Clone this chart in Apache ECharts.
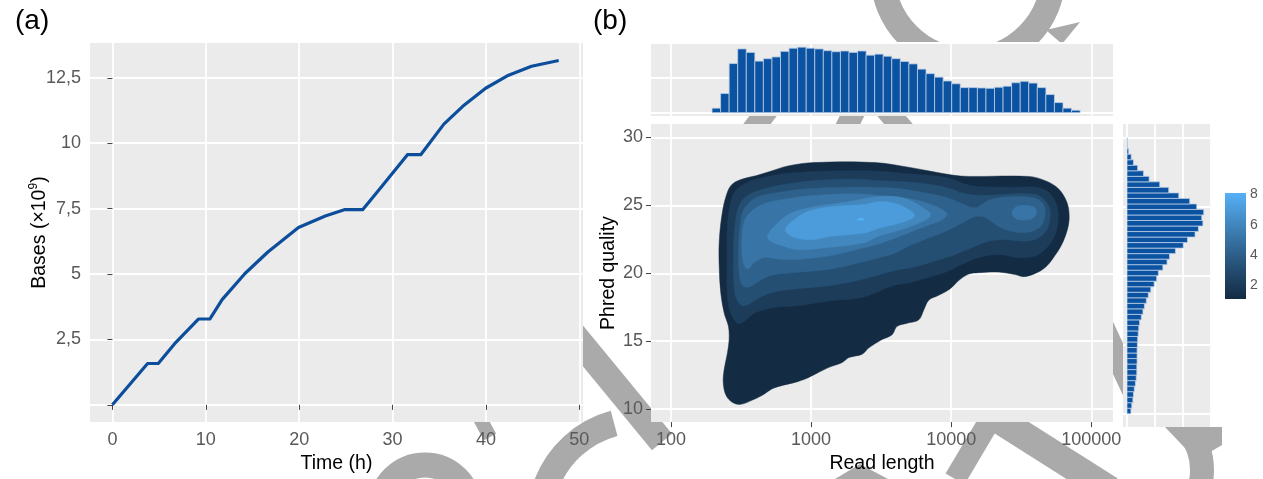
<!DOCTYPE html>
<html>
<head>
<meta charset="utf-8">
<script src="https://cdn.jsdelivr.net/npm/echarts@6/dist/echarts.min.js"></script>
<style>
  html, body { margin: 0; padding: 0; background: #ffffff; }
  #chart { width: 1263px; height: 479px; }
</style>
</head>
<body>
<div id="chart"></div>
<script>
// ---------- (a) cumulative sequencing yield ----------
const runHours = [0, 3.77, 4.91, 6.8, 9.21, 10.43, 11.75, 14.2, 16.65, 19.93, 22.8, 24.83, 26.8, 28.93, 31.6, 33.02, 35.5, 37.52, 39.97, 42.43, 44.89, 47.8];
const basesGiga = [0, 1.58, 1.58, 2.39, 3.28, 3.28, 4.02, 5.02, 5.84, 6.78, 7.22, 7.46, 7.46, 8.38, 9.56, 9.56, 10.73, 11.41, 12.1, 12.6, 12.94, 13.16];
const timeTicks = [0, 10, 20, 30, 40, 50];
const baseTicks = [0, 2.5, 5, 7.5, 10, 12.5];
const baseTickLabels = ['', '2,5', '5', '7,5', '10', '12,5'];

// ---------- (b) read length vs. quality ----------
const lengthTicks = [100, 1000, 10000, 100000];
const qualityTicks = [10, 15, 20, 25, 30];
const densityTicks = [2, 4, 6, 8];

// read-length histogram: log10 bins
const lengthBinStartLog10 = 2.293;
const lengthBinWidthLog10 = 0.0611;
const lengthCounts = [130, 550, 1410, 1830, 1730, 1480, 1550, 1600, 1760, 1850, 1880, 1850, 1830, 1780, 1750, 1770, 1730, 1770, 1650, 1680, 1620, 1550, 1470, 1400, 1250, 1120, 1020, 910, 830, 720, 720, 710, 700, 730, 760, 860, 900, 850, 720, 520, 290, 130, 70];

// quality histogram: bins of 0.4 from Q10 upwards
const qualityBinStart = 10;
const qualityBinWidth = 0.4;
const qualityCounts = [140, 170, 210, 230, 260, 300, 330, 350, 350, 360, 360, 360, 370, 380, 400, 420, 450, 510, 570, 620, 690, 760, 850, 970, 1060, 1120, 1280, 1430, 1520, 1730, 2010, 2160, 2430, 2550, 2710, 2670, 2740, 2490, 2240, 1850, 1490, 1170, 790, 590, 380, 230, 150, 60, 20, 10];

// 2D density: filled contour bands [read length, phred quality]
const densityLevels = [1.1, 2.1, 3.1, 4.1, 5.1, 6.1, 7.1, 8.1];
const contourLevel1 = [[275,26.58],[324,26.94],[403,27.18],[501,27.47],[684,27.90],[1052,28.15],[2853,28.15],[5060,27.79],[10140,27.23],[13340,27.13],[35650,27.13],[46880,26.82],[58340,26.22],[66840,25.25],[69510,24.28],[67930,23.32],[61530,22.11],[53700,21.15],[46880,20.43],[39800,19.99],[32840,19.75],[28640,19.90],[21780,20.09],[15700,20.04],[13340,19.94],[11310,19.46],[9860,18.86],[8140,18.38],[6920,18.02],[6370,17.29],[5870,16.57],[4850,16.32],[4110,16.09],[3790,15.48],[3210,15.12],[2585,14.51],[2315,14.04],[1862,13.79],[1668,13.43],[1341,13.07],[1079,12.59],[915,12.23],[777,11.98],[624,11.74],[529,11.50],[449,11.02],[381,10.66],[315,10.35],[275,10.49],[247,11.02],[236,11.98],[240,12.95],[253,14.15],[260,15.12],[257,16.09],[240,17.05],[227,18.49],[221,20.43],[221,22.36],[233,24.53],[253,25.98]];
const contourLevel2 = [[290,26.09],[267,25.25],[253,23.56],[251,21.15],[253,18.26],[267,17.05],[298,16.32],[333,16.45],[392,17.05],[544,17.48],[798,17.60],[1380,17.97],[2383,18.26],[3890,19.10],[5260,19.34],[6918,19.70],[9100,20.07],[11940,20.67],[15700,21.15],[21780,21.39],[30270,21.15],[39810,21.27],[48100,21.87],[55200,22.84],[58210,24.04],[56750,25.01],[49430,25.98],[39810,26.34],[27100,26.34],[14060,26.45],[9100,27.06],[5260,27.30],[3047,27.52],[1811,27.54],[940,27.47],[607,27.30],[462,27.06],[351,26.70]];
const contourLevel3 = [[351,25.73],[307,25.01],[286,23.56],[279,21.15],[286,18.49],[315,17.66],[351,17.66],[414,18.13],[544,18.62],[798,18.86],[1380,19.10],[2383,19.58],[3890,20.19],[5260,20.43],[7710,20.91],[10720,21.39],[14060,21.87],[18490,22.36],[24320,22.47],[33730,22.36],[41980,22.60],[48100,23.20],[50930,24.17],[49430,25.01],[41980,25.73],[30270,25.85],[17540,25.73],[12620,25.85],[9100,26.34],[5260,26.70],[3047,26.82],[2023,26.94],[1049,26.82],[676,26.58],[462,26.22]];
const contourLevel4 = [[333,24.77],[414,25.61],[607,25.98],[940,26.22],[1811,26.34],[3890,26.27],[5260,26.09],[9100,25.61],[11940,25.13],[14860,24.82],[18490,25.37],[24320,25.61],[35650,25.61],[44360,25.25],[46880,24.41],[44360,23.56],[37650,23.08],[28640,23.03],[21780,23.44],[17540,24.10],[14860,24.17],[11940,23.68],[9100,23.08],[6918,22.60],[5260,22.11],[3890,21.44],[3047,21.15],[2383,20.86],[1380,20.30],[798,20.07],[515,19.83],[414,19.34],[361,18.98],[324,19.10],[307,19.94],[303,21.64],[312,23.56]];
const contourLevel5 = [[333,23.81],[372,24.53],[462,25.13],[676,25.49],[1049,25.73],[2023,25.85],[3047,25.73],[4720,25.54],[6918,25.13],[9330,24.41],[8600,23.92],[6918,23.56],[5260,23.08],[4010,22.60],[3047,22.16],[2383,21.87],[1380,21.30],[843,21.03],[607,21.03],[462,21.15],[392,20.79],[351,20.30],[324,21.01],[321,22.60]];
const contourLevel5Long = [[27100,24.48],[29300,24.91],[33400,25.01],[38100,24.91],[40840,24.55],[38700,24.08],[33400,23.92],[28800,24.04]];
const contourLevel6 = [[488,22.72],[574,23.68],[716,24.41],[1049,24.89],[1811,25.25],[3047,25.64],[4720,25.49],[6918,24.53],[7110,24.24],[6550,23.92],[4720,23.32],[3047,22.74],[2383,22.24],[1380,21.92],[798,21.75],[607,22.07],[515,22.36]];
const contourLevel7 = [[659,23.32],[755,23.92],[940,24.53],[1380,24.89],[2383,25.06],[3047,25.27],[4010,25.13],[5260,24.53],[5470,24.28],[5260,24.04],[4010,23.61],[3047,23.32],[2383,22.96],[1380,22.72],[993,22.47],[755,22.65],[676,22.96]];
const contourLevel8 = [[2124,23.97],[2254,24.06],[2400,23.97],[2254,23.89]];

// ---------- styling ----------
const FONT = '"Liberation Sans", Arial, sans-serif';
const PANEL_BG = '#EBEBEB';
const GRID_LINE = { show: true, lineStyle: { color: '#FFFFFF', width: 1.8 } };
const TICK_TEXT = { fontSize: 18, color: '#595959', fontFamily: FONT };
const TITLE_TEXT = { fontSize: 19.5, color: '#000000', fontFamily: FONT };
const TICK_MARK = { lineStyle: { color: '#444444', width: 1 } };
const BAR_BLUE = '#0B52A0';
const BAR_EDGE = 'rgba(190,208,232,0.95)';
const rampColors = ['#132B43', '#22496C', '#336A98', '#448DC6', '#56B1F7'];
const MARK_GREY = '#AAAAAA';

// ---------- derived series data ----------
const lineData = runHours.map((t, i) => [t, basesGiga[i]]);

const lengthHistData = lengthCounts.map((c, i) => [
  Math.pow(10, lengthBinStartLog10 + i * lengthBinWidthLog10),
  Math.pow(10, lengthBinStartLog10 + (i + 1) * lengthBinWidthLog10),
  c
]);

const qualityHistData = qualityCounts.map((c, i) => [
  qualityBinStart + i * qualityBinWidth,
  qualityBinStart + (i + 1) * qualityBinWidth,
  c
]);

const contourPolygons = [contourLevel1, contourLevel2, contourLevel3, contourLevel4, contourLevel5, contourLevel5Long, contourLevel6, contourLevel7, contourLevel8];
const contourPolygonLevels = [densityLevels[0], densityLevels[1], densityLevels[2], densityLevels[3], densityLevels[4], densityLevels[4], densityLevels[5], densityLevels[6], densityLevels[7]];
const contourData = contourPolygonLevels.map((lv, i) => [lv, i]);

const colorbarData = [[0, densityLevels[0], densityLevels[densityLevels.length - 1]]];

// ---------- background strokes ----------
function strokeStyle(w) {
  return { fill: 'none', stroke: MARK_GREY, lineWidth: w };
}
const backdrop = [
  { type: 'circle', shape: { cx: 968, cy: -25, r: 85 }, style: strokeStyle(25) },
  { type: 'polygon', shape: { points: [[1046, 30], [1080, 22], [1062, 44]] }, style: { fill: MARK_GREY } },
  { type: 'line', shape: { x1: 775, y1: 100, x2: 745, y2: 140 }, style: strokeStyle(22) },
  { type: 'line', shape: { x1: 860, y1: 100, x2: 840, y2: 140 }, style: strokeStyle(22) },
  { type: 'line', shape: { x1: 878, y1: 100, x2: 912, y2: 140 }, style: strokeStyle(22) },
  { type: 'line', shape: { x1: 560, y1: 318, x2: 662, y2: 442 }, style: strokeStyle(26) },
  { type: 'arc', shape: { cx: 640, cy: 520, r: 100, startAngle: Math.PI * 200 / 180, endAngle: Math.PI * 255 / 180, clockwise: true }, style: strokeStyle(26) },
  { type: 'arc', shape: { cx: 425, cy: 510, r: 45, startAngle: Math.PI, endAngle: Math.PI * 2, clockwise: true }, style: strokeStyle(25) },
  { type: 'line', shape: { x1: 470, y1: 400, x2: 490, y2: 437 }, style: strokeStyle(14) },
  { type: 'polygon', shape: { points: [[835, 479], [860, 464], [888, 479]] }, style: { fill: MARK_GREY } },
  { type: 'line', shape: { x1: 990, y1: 420, x2: 955, y2: 479 }, style: strokeStyle(22) },
  { type: 'line', shape: { x1: 960, y1: 395, x2: 1110, y2: 490 }, style: strokeStyle(28) },
  { type: 'arc', shape: { cx: 1140, cy: 470, r: 62, startAngle: -Math.PI * 40 / 180, endAngle: Math.PI * 40 / 180, clockwise: true }, style: strokeStyle(24) },
  { type: 'polygon', shape: { points: [[1165, 427], [1222, 427], [1222, 445], [1200, 458], [1185, 448]] }, style: { fill: MARK_GREY } },
  { type: 'line', shape: { x1: 1100, y1: 320, x2: 1135, y2: 395 }, style: strokeStyle(22) }
].map(el => Object.assign({ z: -10, silent: true }, el));

// ---------- chart ----------
const chart = echarts.init(document.getElementById('chart'), null, { renderer: 'canvas' });

function hiddenAxisParts() {
  return { axisLine: { show: false }, axisTick: { show: false }, axisLabel: { show: false } };
}

const option = {
  backgroundColor: '#FFFFFF',
  animation: false,
  textStyle: { fontFamily: FONT },
  title: [
    { text: '(a)', left: 10, top: 2, textStyle: { fontSize: 28, fontWeight: 'normal', color: '#000', fontFamily: FONT } },
    { text: '(b)', left: 588, top: 2, textStyle: { fontSize: 28, fontWeight: 'normal', color: '#000', fontFamily: FONT } }
  ],
  graphic: { elements: backdrop },
  grid: [
    { left: 90, top: 43, width: 493, height: 384, show: true, backgroundColor: PANEL_BG, borderWidth: 0 },   // (a)
    { left: 651, top: 43, width: 462, height: 73, show: true, backgroundColor: PANEL_BG, borderWidth: 0 },   // length histogram
    { left: 1123, top: 124, width: 88, height: 303, show: true, backgroundColor: PANEL_BG, borderWidth: 0 }, // quality histogram
    { left: 651, top: 124, width: 462, height: 303, show: true, backgroundColor: PANEL_BG, borderWidth: 0 }, // density
    { left: 1225, top: 193, width: 21, height: 106, show: false }                                           // colour bar
  ],
  xAxis: [
    {
      gridIndex: 0, type: 'value', min: -2.4, max: 50.4,
      name: 'Time (h)', nameLocation: 'middle', nameGap: 29, nameTextStyle: TITLE_TEXT,
      axisLine: { show: false },
      axisTick: Object.assign({ show: true, length: 5, customValues: timeTicks }, TICK_MARK),
      axisLabel: Object.assign({ customValues: timeTicks, margin: 9 }, TICK_TEXT),
      splitLine: GRID_LINE
    },
    Object.assign({ gridIndex: 1, type: 'log', min: 72, max: 142900, splitLine: GRID_LINE }, hiddenAxisParts(),
      { axisTick: { show: false, customValues: lengthTicks } }),
    Object.assign({ gridIndex: 2, type: 'value', min: -143, max: 3000, splitLine: GRID_LINE }, hiddenAxisParts(),
      { axisTick: { show: false, customValues: [0, 1000, 2000, 3000] } }),
    {
      gridIndex: 3, type: 'log', min: 72, max: 142900,
      name: 'Read length', nameLocation: 'middle', nameGap: 30, nameTextStyle: TITLE_TEXT,
      axisLine: { show: false },
      axisTick: Object.assign({ show: true, length: 5, customValues: lengthTicks }, TICK_MARK),
      axisLabel: Object.assign({ customValues: lengthTicks, margin: 9, formatter: v => String(Math.round(v)) }, TICK_TEXT),
      splitLine: GRID_LINE
    },
    Object.assign({ gridIndex: 4, type: 'value', min: 0, max: 1, splitLine: { show: false } }, hiddenAxisParts())
  ],
  yAxis: [
    {
      gridIndex: 0, type: 'value', min: -0.66, max: 13.83,
      name: 'Bases (×10{s|9})', nameLocation: 'middle', nameGap: 38, nameMoveOverlap: false,
      nameTextStyle: Object.assign({ lineHeight: 24, rich: { s: { fontSize: 12, verticalAlign: 'top', lineHeight: 13, fontFamily: FONT, color: '#000' } } }, TITLE_TEXT),
      axisLine: { show: false },
      axisTick: Object.assign({ show: true, length: 5, customValues: baseTicks }, TICK_MARK),
      axisLabel: Object.assign({ customValues: baseTicks, margin: 9, formatter: v => baseTickLabels[baseTicks.indexOf(v)] }, TICK_TEXT),
      splitLine: GRID_LINE
    },
    Object.assign({ gridIndex: 1, type: 'value', min: -95, max: 2000, splitLine: GRID_LINE }, hiddenAxisParts(),
      { axisTick: { show: false, customValues: [0, 1000, 2000] } }),
    Object.assign({ gridIndex: 2, type: 'value', min: 9.04, max: 30.99, splitLine: GRID_LINE }, hiddenAxisParts(),
      { axisTick: { show: false, customValues: qualityTicks } }),
    {
      gridIndex: 3, type: 'value', min: 9.04, max: 30.99,
      name: 'Phred quality', nameLocation: 'middle', nameGap: 32, nameTextStyle: TITLE_TEXT,
      axisLine: { show: false },
      axisTick: Object.assign({ show: true, length: 5, customValues: qualityTicks }, TICK_MARK),
      axisLabel: Object.assign({ customValues: qualityTicks, margin: 8 }, TICK_TEXT),
      splitLine: GRID_LINE
    },
    {
      gridIndex: 4, type: 'value', position: 'right',
      min: densityLevels[0], max: densityLevels[densityLevels.length - 1],
      axisLine: { show: false },
      axisTick: { show: true, inside: true, length: 4, lineStyle: { color: '#FFFFFF', width: 1.2 }, customValues: densityTicks },
      axisLabel: { customValues: densityTicks, margin: 4, fontSize: 14, color: '#595959', fontFamily: FONT },
      splitLine: { show: false }
    }
  ],
  visualMap: [{
    type: 'continuous', show: false, seriesIndex: 3, dimension: 0,
    min: densityLevels[0], max: densityLevels[densityLevels.length - 1],
    inRange: { color: rampColors }
  }],
  series: [
    {
      type: 'line', xAxisIndex: 0, yAxisIndex: 0, data: lineData,
      showSymbol: false, smooth: false,
      lineStyle: { color: '#0C4E9C', width: 3.2, join: 'round' }, itemStyle: { color: '#0C4E9C' }
    },
    {
      type: 'custom', xAxisIndex: 1, yAxisIndex: 1, data: lengthHistData, clip: true,
      encode: { x: [0, 1], y: 2 },
      renderItem: (params, api) => {
        const p0 = api.coord([api.value(0), 0]);
        const p1 = api.coord([api.value(1), api.value(2)]);
        return { type: 'rect', shape: { x: p0[0], y: p1[1], width: p1[0] - p0[0], height: p0[1] - p1[1] },
                 style: { fill: BAR_BLUE, stroke: BAR_EDGE, lineWidth: 0.8 } };
      }
    },
    {
      type: 'custom', xAxisIndex: 2, yAxisIndex: 2, data: qualityHistData, clip: true,
      encode: { x: 2, y: [0, 1] },
      renderItem: (params, api) => {
        const p0 = api.coord([0, api.value(0)]);
        const p1 = api.coord([api.value(2), api.value(1)]);
        return { type: 'rect', shape: { x: p0[0], y: p1[1], width: p1[0] - p0[0], height: p0[1] - p1[1] },
                 style: { fill: BAR_BLUE, stroke: BAR_EDGE, lineWidth: 0.8 } };
      }
    },
    {
      type: 'custom', xAxisIndex: 3, yAxisIndex: 3, data: contourData, clip: true,
      encode: { tooltip: 0 },
      renderItem: (params, api) => {
        const poly = contourPolygons[api.value(1)];
        const pts = poly.map(p => api.coord(p));
        return { type: 'polygon', shape: { points: pts, smooth: 0.35 },
                 style: { fill: api.visual('color'), stroke: api.visual('color'), lineWidth: 0.5 } };
      }
    },
    {
      type: 'custom', xAxisIndex: 4, yAxisIndex: 4, data: colorbarData,
      encode: { x: 0, y: [1, 2] },
      renderItem: (params, api) => {
        const p0 = api.coord([0, api.value(1)]);
        const p1 = api.coord([1, api.value(2)]);
        const stops = rampColors.map((c, i) => ({ offset: i / (rampColors.length - 1), color: c }));
        return { type: 'rect', shape: { x: p0[0], y: p1[1], width: p1[0] - p0[0], height: p0[1] - p1[1] },
                 style: { fill: new echarts.graphic.LinearGradient(0, 1, 0, 0, stops) } };
      }
    }
  ]
};

chart.setOption(option);
</script>
</body>
</html>
